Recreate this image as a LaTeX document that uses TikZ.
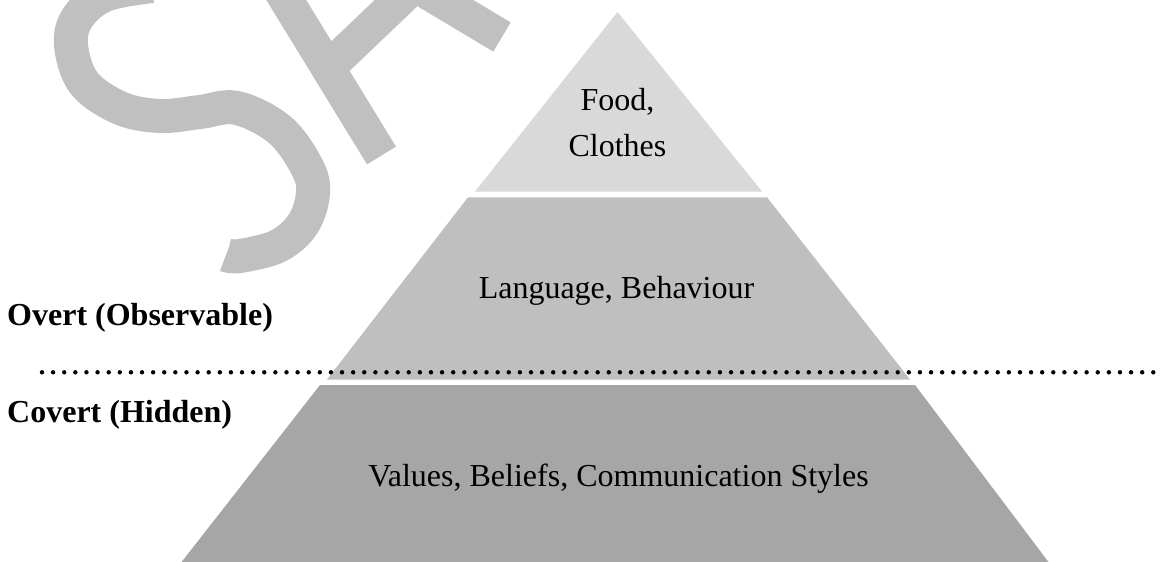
\documentclass[tikz,border=0pt]{standalone}
\usepackage{fontspec}
\setmainfont{Liberation Serif}
\definecolor{layerA}{HTML}{D9D9D9}
\definecolor{layerB}{HTML}{BFBFBF}
\definecolor{layerC}{HTML}{A6A6A6}
\definecolor{wmgray}{HTML}{C0C0C0}
\begin{document}
\begin{tikzpicture}[x=1pt,y=-1pt,
  lbl/.style={font=\fontsize{32}{46}\selectfont, inner sep=0pt, text=black},
  side/.style={font=\fontsize{32}{46}\selectfont\bfseries, inner sep=0pt, text=black, anchor=base west},
  wm/.style={draw=wmgray, line width=34pt, line cap=butt, line join=round},
  dots/.style={draw=black, line width=4.4pt, line cap=round, dash pattern=on 0pt off 11.113pt}]
\useasboundingbox (0,0) rectangle (1163,562);
\clip (0,0) rectangle (1163,562);
% watermark strokes
\draw[wm] plot[smooth, tension=0.6] coordinates {(152,-14) (105,-5) (78,17) (71,45) (84,83) (120,108) (160,116) (200,112) (237,108) (280,130) (307,167) (313,193) (303,224) (278,246) (240,256) (226,255)};
\draw[wm] (274,-20) -- (381.5,155.5);
\draw[wm, line join=miter] (328,68) -- (415,-15) -- (502,37);
% pyramid layers
\fill[layerA] (617.5,12) -- (762,191.5) -- (475,191.5) -- cycle;
\fill[layerB] (468,197.3) -- (767,197.3) -- (910,379.5) -- (327,379.5) -- cycle;
\fill[layerC] (320,385) -- (915,385) -- (1050,564) -- (180,564) -- cycle;
% divider
\coordinate (dl) at (42,372.3);
\coordinate (dr) at (1154,372.3);
\draw[dots] (dl) -- (dr);
% labels
\node[lbl, align=center, anchor=base] (food) at (617.5,156.7) {Food,\\Clothes};
\node[lbl, anchor=base] (lang) at (616.5,298) {Language, Behaviour};
\node[lbl, anchor=base] (vals) at (618.5,486) {Values, Beliefs, Communication Styles};
\node[side] (overt) at (7,325) {Overt (Observable)};
\node[side] (covert) at (7,422) {Covert (Hidden)};
\end{tikzpicture}
\end{document}
